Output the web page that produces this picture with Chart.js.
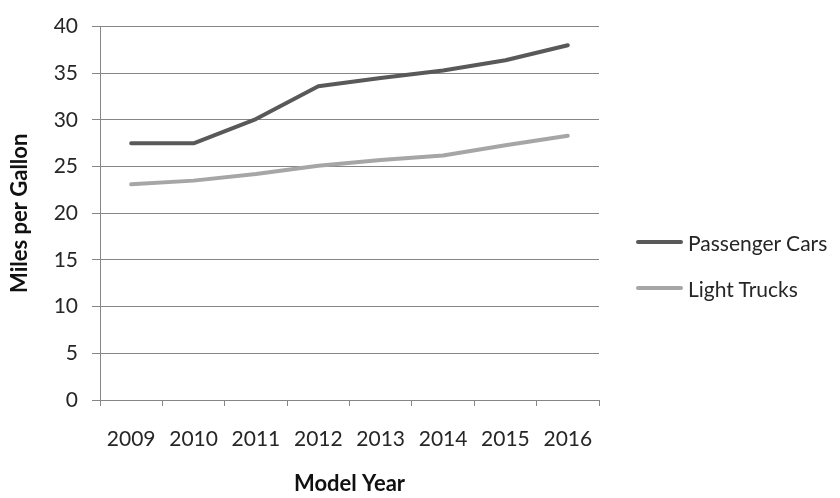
<!DOCTYPE html>
<html>
<head>
<meta charset="utf-8">
<script src="https://cdn.jsdelivr.net/npm/chart.js@4.4.1/dist/chart.umd.min.js"></script>
<style>
  body { margin: 0; background: #fff; }
  #wrap { position: relative; width: 840px; height: 498px; }
  #legend { position: absolute; left: 636px; top: 229px; font-family: Lato, sans-serif; font-size: 21px; color: #262626; }
  .item { display: flex; align-items: center; height: 26px; margin-bottom: 20px; }
  .swatch { width: 47px; height: 4px; border-radius: 2px; margin-right: 5px; }
</style>
</head>
<body>
<div id="wrap">
  <canvas id="chart" width="840" height="498"></canvas>
  <div id="legend"></div>
</div>
<script>
// datos
const years = ["2009", "2010", "2011", "2012", "2013", "2014", "2015", "2016"];
const passengerCars = [27.5, 27.5, 30.1, 33.6, 34.5, 35.3, 36.4, 38.0];
const lightTrucks = [23.1, 23.5, 24.2, 25.1, 25.7, 26.2, 27.3, 28.3];
const seriesNames = ["Passenger Cars", "Light Trucks"];
const seriesColors = ["#595959", "#a6a6a6"];

const gridColor = "#868686";
const tickFont = { family: "Lato", size: 21 };
const titleFont = { family: "Lato", size: 22, weight: "bold" };

const ctx = document.getElementById("chart").getContext("2d");

const chart = new Chart(ctx, {
    type: "line",
    data: {
        labels: years,
        datasets: [passengerCars, lightTrucks].map((vals, i) => ({
            label: seriesNames[i],
            data: vals,
            borderColor: seriesColors[i],
            backgroundColor: seriesColors[i],
            borderWidth: 4,
            borderCapStyle: "round",
            borderJoinStyle: "round",
            pointRadius: 0,
            tension: 0
        }))
    },
    options: {
        responsive: false,
        animation: false,
        layout: { padding: { top: 22, right: 241, bottom: 0, left: 0 } },
        plugins: {
            legend: { display: false },
            tooltip: { enabled: false }
        },
        scales: {
            x: {
                offset: true,
                grid: {
                    offset: true,
                    drawOnChartArea: false,
                    drawTicks: true,
                    tickLength: 6,
                    color: gridColor
                },
                border: { color: gridColor },
                ticks: { font: tickFont, color: "#262626", padding: 21, maxRotation: 0 },
                title: { display: true, text: "Model Year", font: titleFont, color: "#111", padding: { top: 0, bottom: 1 } },
                afterFit: (scale) => { scale.height = 98; }
            },
            y: {
                min: 0,
                max: 40,
                ticks: { stepSize: 5, font: tickFont, color: "#262626", padding: 14 },
                grid: { color: gridColor, tickLength: 8 },
                border: { color: gridColor },
                title: { display: true, text: "Miles per Gallon", font: titleFont, color: "#111", padding: { top: 7, bottom: 0 } },
                afterFit: (scale) => { scale.width = 100; }
            }
        }
    }
});

// leyenda a la derecha
const legend = document.getElementById("legend");
seriesNames.forEach((name, i) => {
    const item = document.createElement("div");
    item.className = "item";
    const sw = document.createElement("span");
    sw.className = "swatch";
    sw.style.background = seriesColors[i];
    const txt = document.createElement("span");
    txt.textContent = name;
    item.appendChild(sw);
    item.appendChild(txt);
    legend.appendChild(item);
});
</script>
</body>
</html>
